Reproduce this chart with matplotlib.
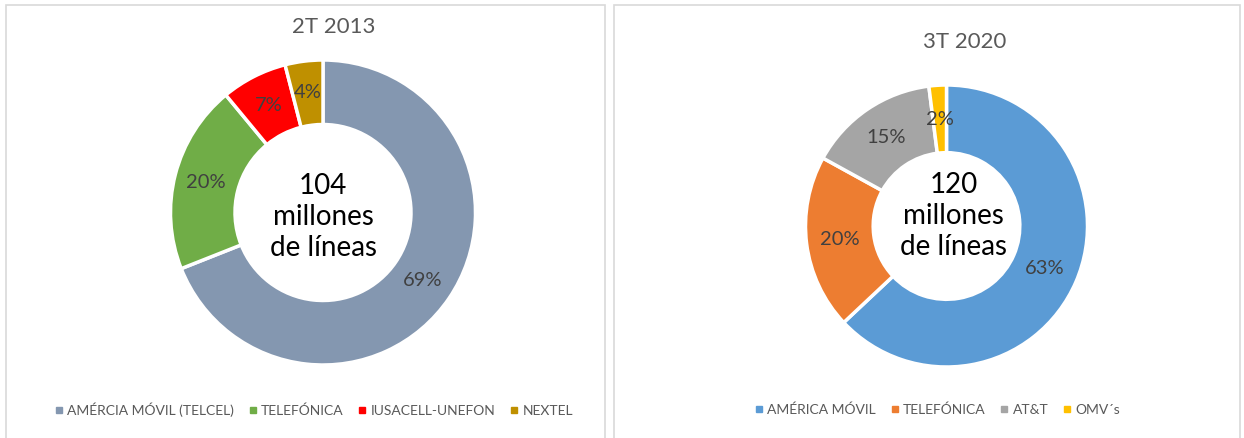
import matplotlib.pyplot as plt
from matplotlib.lines import Line2D
from matplotlib.patches import Rectangle

plt.rcParams['font.family'] = ['Lato', 'DejaVu Sans']

# data
left_title = '2T 2013'
left_labels = ['AMÉRCIA MÓVIL (TELCEL)', 'TELEFÓNICA', 'IUSACELL-UNEFON', 'NEXTEL']
left_values = [69, 20, 7, 4]
left_colors = ['#8497B0', '#70AD47', '#FF0000', '#BF9000']
left_center = '104\nmillones\nde líneas'

right_title = '3T 2020'
right_labels = ['AMÉRICA MÓVIL', 'TELEFÓNICA', 'AT&T', 'OMV´s']
right_values = [63, 20, 15, 2]
right_colors = ['#5B9BD5', '#ED7D31', '#A5A5A5', '#FFC000']
right_center = '120\nmillones\nde líneas'

W, H = 1244, 438
fig = plt.figure(figsize=(W / 100, H / 100), dpi=100)
fig.patch.set_facecolor('white')

# marcos de los paneles
for x0, x1 in [(6, 605), (614, 1240)]:
    fig.patches.append(Rectangle((x0 / W, -0.01), (x1 - x0) / W, (H - 5) / H + 0.01,
                                 transform=fig.transFigure, fill=False,
                                 edgecolor='#D9D9D9', linewidth=1.2))


def donut(cx, cy, r, hole, values, colors, center_txt, txt_dx, txt_dy, pct_dist):
    ax = fig.add_axes([(cx - r) / W, (H - cy - r) / H, 2 * r / W, 2 * r / H])
    ax.pie(values, colors=colors, startangle=90, counterclock=False,
           radius=1, autopct='%d%%', pctdistance=pct_dist,
           wedgeprops=dict(width=1 - hole, edgecolor='white', linewidth=2.5),
           textprops=dict(color='#404040', fontsize=14.5))
    ax.set_xlim(-1, 1)
    ax.set_ylim(-1, 1)
    ax.set_aspect('auto')
    ax.axis('off')
    # offsets en píxeles (y hacia abajo)
    ax.text(txt_dx / r, -txt_dy / r, center_txt, ha='center', va='center', fontsize=20,
            color='black', linespacing=1.22)
    return ax


donut(323, 212.5, 152.5, 0.577, left_values, left_colors, left_center, 0, 4.5, 0.79)
donut(946.5, 226, 141, 0.52, right_values, right_colors, right_center, 7, -10, 0.76)

fig.text(334 / W, 1 - 27 / H, left_title, ha='center', va='center', fontsize=16, color='#595959')
fig.text(965 / W, 1 - 42 / H, right_title, ha='center', va='center', fontsize=16, color='#595959')


def legend(labels, colors, xc):
    handles = [Line2D([], [], marker='s', linestyle='none', markersize=4,
                      markerfacecolor=c, markeredgecolor=c) for c in colors]
    fig.legend(handles, labels, loc='center', bbox_to_anchor=(xc / W, 1 - 410 / H),
               ncol=len(labels), frameon=False, fontsize=10, labelcolor='#595959',
               handlelength=0.5, handletextpad=0.35, columnspacing=1.1)


legend(left_labels, left_colors, 314)
legend(right_labels, right_colors, 938)

fig.savefig('out.png', dpi=100)
